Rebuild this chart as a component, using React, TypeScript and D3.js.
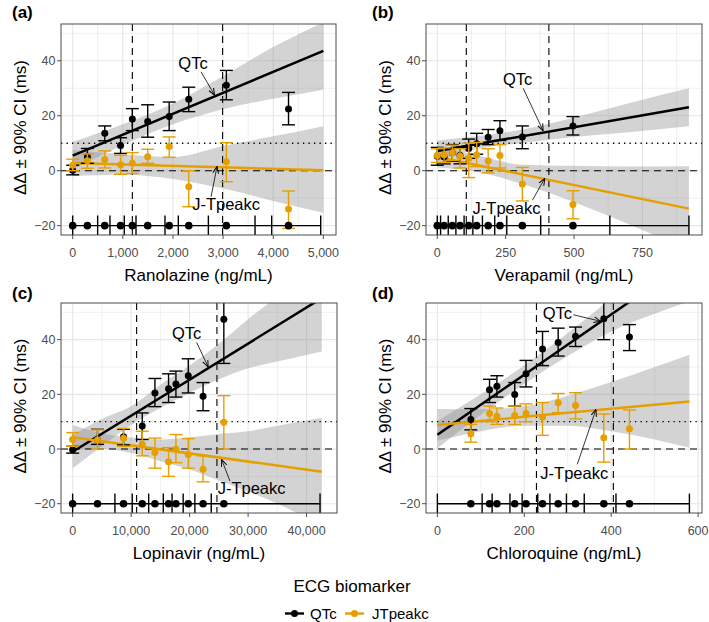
import React from "react";
import * as d3 from "d3";

const W = 709;
const H = 622;
const ORANGE = "#E69F00";
const FONT = "'Liberation Sans', Arial, Helvetica, sans-serif";

// ---------- shared y axis ----------
const yDomain = [-23.4, 53.4];
const yTicks = [-20, 0, 20, 40];
const yTickLabels = ["\u221220", "0", "20", "40"];
const yMinor = [-10, 10, 30, 50];
const yTitle = "\u0394\u0394 \u00b1 90% CI (ms)";
const decileY = -20;
const refDashed = 0;
const refDotted = 10;

// ---------- (a) Ranolazine ----------
const aConc = [0, 293, 640, 955, 1190, 1496, 1925, 2315, 3065, 4305];
const aQTc = [0.2, 5.1, 13.6, 9.2, 18.8, 17.9, 19.7, 26.0, 31.1, 22.5];
const aQTcLo = [-1.5, 2.7, 10.9, 6.3, 14.6, 12.2, 14.6, 21.5, 25.8, 16.7];
const aQTcHi = [2.0, 8.1, 16.3, 12.0, 22.6, 24.0, 25.0, 30.4, 36.5, 28.5];
const aJT = [2.0, 3.6, 4.1, 2.2, 2.7, 5.1, 8.8, -5.8, 3.3, -13.9];
const aJTLo = [0.0, 0.9, 1.0, -1.3, -1.0, 2.7, 4.9, -13.1, -4.0, -21.0];
const aJTHi = [4.2, 6.1, 7.2, 5.6, 6.6, 7.8, 12.3, 0.0, 10.2, -7.4];
const aFitQ = [[0, 5.5], [5000, 43.6]];
const aFitJ = [[0, 2.8], [5000, 0.2]];
const aBandQ = [[0, 0.5, 10.5], [1000, 9.3, 16.9], [2000, 16.9, 24.5], [3000, 22.4, 34.4], [4000, 26.2, 45], [5000, 29.5, 54]];
const aBandJ = [[0, -2, 7.5], [1000, -1.5, 6], [2000, -3, 5], [3000, -6.5, 9], [4000, -11, 12.5], [5000, -15.3, 16.2]];
const aVlines = [1190, 2990];
const aBins = [0, 498, 744, 1030, 1263, 1841, 2107, 2706, 3637, 3969, 4947];
const aXTicks = [0, 1000, 2000, 3000, 4000, 5000];
const aXLabels = ["0", "1,000", "2,000", "3,000", "4,000", "5,000"];
const aXMinor = [500, 1500, 2500, 3500, 4500];

// ---------- (b) Verapamil ----------
const bConc = [0, 25, 55, 83, 115, 144, 186, 229, 311, 496];
const bQTc = [5.3, 5.0, 6.5, 5.5, 8.1, 9.8, 12.2, 14.5, 12.3, 16.3];
const bQTcLo = [2.0, 2.5, 3.5, 2.5, 4.5, 6.0, 9.5, 11.0, 8.0, 13.0];
const bQTcHi = [8.5, 7.8, 9.5, 8.5, 11.5, 13.6, 15.0, 18.2, 16.3, 19.7];
const bJT = [5.5, 5.8, 6.5, 5.3, 4.5, 5.8, 3.5, 5.5, -4.8, -12.3];
const bJTLo = [3.0, 3.0, 3.8, 1.0, -2.5, 1.5, -0.8, 1.0, -11.0, -17.5];
const bJTHi = [8.0, 8.3, 9.3, 8.0, 10.0, 10.3, 8.0, 9.5, 1.2, -7.3];
const bFitQ = [[0, 7.2], [920, 23.1]];
const bFitJ = [[0, 5.0], [920, -13.8]];
const bBandQ = [[0, 3.5, 11], [150, 8, 12.6], [300, 10, 14.8], [500, 12.3, 19.4], [700, 14, 24.6], [920, 16.2, 30]];
const bBandJ = [[0, 1.2, 8.8], [150, -0.5, 5.5], [300, -4.5, 2.3], [500, -11.5, 1.8], [700, -19.5, 1.5], [920, -29, 1.6]];
const bVlines = [106, 408];
const bBins = [0, 12, 40, 68, 98, 130, 165, 210, 254, 378, 631, 920];
const bXTicks = [0, 250, 500, 750];
const bXLabels = ["0", "250", "500", "750"];
const bXMinor = [125, 375, 625, 875];

// ---------- (c) Lopinavir ----------
const cConc = [0, 4250, 8700, 11900, 14070, 16400, 17660, 19770, 22300, 25850];
const cQTc = [-0.3, 3.3, 4.5, 8.4, 20.5, 22.0, 23.8, 26.8, 19.3, 47.5];
const cQTcLo = [-1.5, 1.7, 1.5, 3.5, 15.5, 17.0, 19.0, 20.5, 14.0, 31.3];
const cQTcHi = [1.0, 7.2, 7.2, 13.2, 25.8, 27.5, 28.5, 33.0, 24.3, 60];
const cJT = [3.5, 3.3, 3.9, 1.7, -1.3, -4.7, -0.1, -2.0, -7.4, 9.8];
const cJTLo = [1.0, 0.0, 1.0, -2.5, -7.0, -10.0, -5.0, -7.0, -12.0, 0.0];
const cJTHi = [6.0, 7.0, 7.5, 6.5, 4.0, 0.5, 5.3, 3.8, -2.5, 19.5];
const cFitQ = [[0, -1], [42600, 55.2]];
const cFitJ = [[0, 4.3], [42600, -8.3]];
const cBandQ = [[0, -7, 5], [5000, 1, 11], [10000, 8.8, 15.6], [15000, 15, 23.5], [20000, 20.5, 30.5], [25000, 25.5, 38.5], [30000, 29.5, 47.5], [35000, 32, 56], [42600, 35.7, 74]];
const cBandJ = [[0, -0.2, 8.8], [5000, 0, 5.8], [10000, -1.5, 4.2], [15000, -4.5, 3.5], [20000, -7.5, 4.3], [25000, -11.5, 5.5], [30000, -15.5, 6.5], [35000, -20, 8.5], [42600, -28, 11.4]];
const cVlines = [10940, 24670];
const cBins = [0, 7230, 10190, 13000, 15500, 17000, 18900, 20900, 23700, 42300];
const cXTicks = [0, 10000, 20000, 30000, 40000];
const cXLabels = ["0", "10,000", "20,000", "30,000", "40,000"];
const cXMinor = [5000, 15000, 25000, 35000];

// ---------- (d) Chloroquine ----------
const dConc = [77, 120, 137, 178, 204, 242, 278, 318, 383, 442];
const dQTc = [10.8, 21.7, 23.0, 19.9, 27.5, 36.6, 39.0, 41.2, 47.6, 41.0];
const dQTcLo = [7.0, 17.0, 19.0, 15.7, 22.7, 30.5, 34.0, 37.5, 40.0, 36.0];
const dQTcHi = [14.8, 25.5, 26.8, 24.3, 32.4, 43.0, 44.2, 44.6, 56.0, 45.5];
const dJT = [5.6, 13.0, 12.0, 12.3, 13.0, 11.7, 16.9, 15.9, 4.1, 7.4];
const dJTLo = [2.5, 10.0, 9.0, 9.0, 10.0, 5.0, 13.3, 11.0, -4.8, 0.0];
const dJTHi = [9.0, 15.7, 15.0, 15.7, 16.5, 17.0, 20.3, 20.6, 12.8, 14.3];
const dFitQ = [[0, 5.2], [580, 69]];
const dFitJ = [[0, 8.8], [580, 17.4]];
const dBandQ = [[0, 0.2, 10.2], [100, 12.5, 20], [200, 23.8, 30.6], [300, 34, 42.4], [400, 43, 55.4], [500, 49.5, 71], [580, 54, 84]];
const dBandJ = [[0, 3, 14.6], [100, 6.5, 14.5], [200, 8.5, 15.6], [300, 8.5, 19.5], [400, 6.5, 24.5], [500, 3.5, 30], [580, 0.5, 34.5]];
const dVlines = [228, 405];
const dBins = [0, 103, 126, 167, 195, 231, 259, 297, 338, 411, 580];
const dXTicks = [0, 200, 400, 600];
const dXLabels = ["0", "200", "400", "600"];
const dXMinor = [100, 300, 500];

// ---------- annotations (label pos, arrow from -> to), data units ----------
const annoQTc = [
  { lx: 2400, ly: 39.2, x0: 2560, y0: 36, x1: 2830, y1: 27.5 },
  { lx: 294, ly: 33.4, x0: 314, y0: 30, x1: 387, y1: 14.5 },
  { lx: 19480, ly: 42.4, x0: 21200, y0: 39, x1: 23180, y1: 30 },
  { lx: 276, ly: 49.7, x0: 313, y0: 49.1, x1: 376, y1: 46.7 },
];
const annoJT = [
  { lx: 3060, ly: -12, x0: 2760, y0: -9.5, x1: 2880, y1: 1.6 },
  { lx: 253, ly: -13.7, x0: 348, y0: -10.7, x1: 393, y1: -2.8 },
  { lx: 30600, ly: -14.4, x0: 26900, y0: -11.7, x1: 25470, y1: -3.8 },
  { lx: 315, ly: -8.6, x0: 322, y0: -5.6, x1: 365, y1: 14.5 },
];

const letters = ["(a)", "(b)", "(c)", "(d)"];
const xTitles = ["Ranolazine (ng/mL)", "Verapamil (ng/mL)", "Lopinavir (ng/mL)", "Chloroquine (ng/mL)"];
const legendTitle = "ECG biomarker";
const legendLabels = ["QTc", "JTpeakc"];
const annoLabels = ["QTc", "J-Tpeakc"];

// layout
const panelBoxes = [
  { x0: 61, x1: 336, y0: 24, y1: 235, xDomain: [-233, 5252] },
  { x0: 426, x1: 702, y0: 24, y1: 235, xDomain: [-41.3, 967.8] },
  { x0: 61, x1: 337, y0: 303, y1: 513, xDomain: [-1990, 45200] },
  { x0: 426, x1: 702, y0: 303, y1: 513, xDomain: [-26.2, 609] },
];

const panels = [
  { conc: aConc, q: aQTc, qLo: aQTcLo, qHi: aQTcHi, j: aJT, jLo: aJTLo, jHi: aJTHi, fitQ: aFitQ, fitJ: aFitJ, bandQ: aBandQ, bandJ: aBandJ, vlines: aVlines, bins: aBins, xt: aXTicks, xl: aXLabels, xm: aXMinor },
  { conc: bConc, q: bQTc, qLo: bQTcLo, qHi: bQTcHi, j: bJT, jLo: bJTLo, jHi: bJTHi, fitQ: bFitQ, fitJ: bFitJ, bandQ: bBandQ, bandJ: bBandJ, vlines: bVlines, bins: bBins, xt: bXTicks, xl: bXLabels, xm: bXMinor },
  { conc: cConc, q: cQTc, qLo: cQTcLo, qHi: cQTcHi, j: cJT, jLo: cJTLo, jHi: cJTHi, fitQ: cFitQ, fitJ: cFitJ, bandQ: cBandQ, bandJ: cBandJ, vlines: cVlines, bins: cBins, xt: cXTicks, xl: cXLabels, xm: cXMinor },
  { conc: dConc, q: dQTc, qLo: dQTcLo, qHi: dQTcHi, j: dJT, jLo: dJTLo, jHi: dJTHi, fitQ: dFitQ, fitJ: dFitJ, bandQ: dBandQ, bandJ: dBandJ, vlines: dVlines, bins: dBins, xt: dXTicks, xl: dXLabels, xm: dXMinor },
];

const CAP = 6.5;
const R = 3.5;
const GRID = "#e6e6e6";

function ErrorPoints({ x, y, conc, v, lo, hi, color }: any) {
  return (
    <g>
      {conc.map((c: number, i: number) => {
        const cx = x(c);
        return (
          <g key={i} stroke={color} strokeWidth={1.4}>
            <line x1={cx} x2={cx} y1={y(lo[i])} y2={y(hi[i])} />
            <line x1={cx - CAP} x2={cx + CAP} y1={y(lo[i])} y2={y(lo[i])} />
            <line x1={cx - CAP} x2={cx + CAP} y1={y(hi[i])} y2={y(hi[i])} />
            <circle cx={cx} cy={y(v[i])} r={R} fill={color} stroke="none" />
          </g>
        );
      })}
    </g>
  );
}

function Panel({ idx }: { idx: number }) {
  const b = panelBoxes[idx];
  const p = panels[idx];
  const x = d3.scaleLinear().domain(b.xDomain).range([b.x0, b.x1]);
  const y = d3.scaleLinear().domain(yDomain).range([b.y1, b.y0]);
  const area = d3
    .area<number[]>()
    .x((d) => x(d[0]))
    .y0((d) => y(d[1]))
    .y1((d) => y(d[2]))
    .curve(d3.curveMonotoneX);
  const line = d3
    .line<number[]>()
    .x((d) => x(d[0]))
    .y((d) => y(d[1]));
  const clipId = `clip-${idx}`;
  const left = idx % 2 === 0;
  const top = idx < 2;
  const aq = annoQTc[idx];
  const aj = annoJT[idx];
  const binTop = y(decileY + 3.7);
  const binBot = y(decileY - 3.7);
  const cxMid = (b.x0 + b.x1) / 2;
  const cyMid = (b.y0 + b.y1) / 2;
  return (
    <g>
      <defs>
        <clipPath id={clipId}>
          <rect x={b.x0} y={b.y0} width={b.x1 - b.x0} height={b.y1 - b.y0} />
        </clipPath>
      </defs>
      <rect x={b.x0} y={b.y0} width={b.x1 - b.x0} height={b.y1 - b.y0} fill="#fff" />
      <g clipPath={`url(#${clipId})`}>
        {p.xm.map((t: number) => (
          <line key={"xm" + t} x1={x(t)} x2={x(t)} y1={b.y0} y2={b.y1} stroke={GRID} strokeWidth={0.6} />
        ))}
        {yMinor.map((t) => (
          <line key={"ym" + t} x1={b.x0} x2={b.x1} y1={y(t)} y2={y(t)} stroke={GRID} strokeWidth={0.6} />
        ))}
        {p.xt.map((t: number) => (
          <line key={"xg" + t} x1={x(t)} x2={x(t)} y1={b.y0} y2={b.y1} stroke={GRID} strokeWidth={1.1} />
        ))}
        {yTicks.map((t) => (
          <line key={"yg" + t} x1={b.x0} x2={b.x1} y1={y(t)} y2={y(t)} stroke={GRID} strokeWidth={1.1} />
        ))}
        <path d={area(p.bandQ as number[][]) || ""} fill="#8c8c8c" fillOpacity={0.38} />
        <path d={area(p.bandJ as number[][]) || ""} fill="#8c8c8c" fillOpacity={0.38} />
        <line x1={b.x0} x2={b.x1} y1={y(refDashed)} y2={y(refDashed)} stroke="#000" strokeWidth={1.1} strokeDasharray="7,5" />
        <line x1={b.x0} x2={b.x1} y1={y(refDotted)} y2={y(refDotted)} stroke="#000" strokeWidth={1.3} strokeDasharray="1.3,4.2" />
        {p.vlines.map((v: number) => (
          <line key={"v" + v} x1={x(v)} x2={x(v)} y1={b.y0} y2={b.y1} stroke="#000" strokeWidth={1.1} strokeDasharray="7,5" />
        ))}
        <path d={line(p.fitQ as number[][]) || ""} stroke="#000" strokeWidth={2.5} fill="none" />
        <path d={line(p.fitJ as number[][]) || ""} stroke={ORANGE} strokeWidth={2.5} fill="none" />
        <ErrorPoints x={x} y={y} conc={p.conc} v={p.q} lo={p.qLo} hi={p.qHi} color="#000" />
        <ErrorPoints x={x} y={y} conc={p.conc} v={p.j} lo={p.jLo} hi={p.jHi} color={ORANGE} />
        <g stroke="#000" strokeWidth={1.4}>
          <line x1={x(p.bins[0])} x2={x(p.bins[p.bins.length - 1])} y1={y(decileY)} y2={y(decileY)} />
          {p.bins.map((bv: number, i: number) => (
            <line key={"b" + i} x1={x(bv)} x2={x(bv)} y1={binTop} y2={binBot} />
          ))}
        </g>
        {p.conc.map((c: number, i: number) => (
          <circle key={"bd" + i} cx={x(c)} cy={y(decileY)} r={R + 0.3} fill="#000" />
        ))}
      </g>
      <text x={x(aq.lx)} y={y(aq.ly)} textAnchor="middle" dominantBaseline="central" fontSize={16.5} fill="#000">
        {annoLabels[0]}
      </text>
      <line x1={x(aq.x0)} y1={y(aq.y0)} x2={x(aq.x1)} y2={y(aq.y1)} stroke="#000" strokeWidth={0.8} markerEnd="url(#arrowhead)" />
      <text x={x(aj.lx)} y={y(aj.ly)} textAnchor="middle" dominantBaseline="central" fontSize={16.5} fill="#000">
        {annoLabels[1]}
      </text>
      <line x1={x(aj.x0)} y1={y(aj.y0)} x2={x(aj.x1)} y2={y(aj.y1)} stroke="#000" strokeWidth={0.8} markerEnd="url(#arrowhead)" />
      <rect x={b.x0} y={b.y0} width={b.x1 - b.x0} height={b.y1 - b.y0} fill="none" stroke="#4d4d4d" strokeWidth={1} />
      {p.xt.map((t: number, i: number) => (
        <g key={"xt" + t}>
          <line x1={x(t)} x2={x(t)} y1={b.y1} y2={b.y1 + 4} stroke="#4d4d4d" strokeWidth={1} />
          <text x={x(t)} y={b.y1 + 21.5} textAnchor="middle" fontSize={12.5} fill="#4d4d4d">
            {p.xl[i]}
          </text>
        </g>
      ))}
      {yTicks.map((t, i) => (
        <g key={"yt" + t}>
          <line x1={b.x0 - 4} x2={b.x0} y1={y(t)} y2={y(t)} stroke="#4d4d4d" strokeWidth={1} />
          <text x={b.x0 - 5.5} y={y(t)} dy="0.36em" textAnchor="end" fontSize={12.5} fill="#4d4d4d">
            {yTickLabels[i]}
          </text>
        </g>
      ))}
      <text x={cxMid} y={b.y1 + 46} textAnchor="middle" fontSize={17} fill="#000">
        {xTitles[idx]}
      </text>
      <text
        transform={`translate(${b.x0 - 35},${cyMid - 2}) rotate(-90)`}
        textAnchor="middle"
        fontSize={17}
        fill="#000"
      >
        {yTitle}
      </text>
      <text x={left ? 12 : 372} y={top ? 18 : 299} fontSize={17} fontWeight="bold" fill="#000">
        {letters[idx]}
      </text>
    </g>
  );
}

export default function App() {
  const legendColors = ["#000", ORANGE];
  const legendKeyX = [285, 345];
  const legendTextX = [310, 372];
  return (
    <svg
      width={W}
      height={H}
      style={{ position: "absolute", left: 0, top: 0, background: "#fff" }}
      fontFamily={FONT}
    >
      <defs>
        <marker
          id="arrowhead"
          viewBox="0 0 10 10"
          refX={10}
          refY={5}
          markerWidth={7}
          markerHeight={7}
          markerUnits="userSpaceOnUse"
          orient="auto"
        >
          <path d="M0,1 L10,5 L0,9" fill="none" stroke="#000" strokeWidth={1.4} />
        </marker>
      </defs>
      <rect width={W} height={H} fill="#fff" />
      {panelBoxes.map((_, i) => (
        <Panel key={i} idx={i} />
      ))}
      <text x={352} y={592} textAnchor="middle" fontSize={17} fill="#000">
        {legendTitle}
      </text>
      {legendLabels.map((lab, i) => (
        <g key={lab}>
          <line x1={legendKeyX[i]} x2={legendKeyX[i] + 19} y1={613.5} y2={613.5} stroke={legendColors[i]} strokeWidth={2.4} />
          <circle cx={legendKeyX[i] + 9.5} cy={613.5} r={R} fill={legendColors[i]} />
          <text x={legendTextX[i]} y={618.5} fontSize={15} fill="#000">
            {lab}
          </text>
        </g>
      ))}
    </svg>
  );
}
